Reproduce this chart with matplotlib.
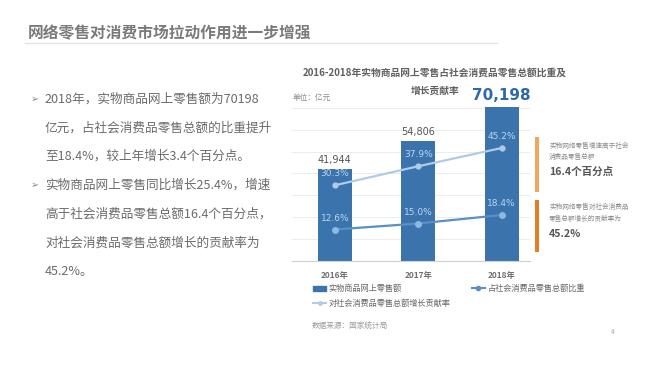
import matplotlib
matplotlib.use("Agg")
import matplotlib.pyplot as plt
from matplotlib.patches import Rectangle, Patch
from matplotlib.lines import Line2D
import numpy as np

plt.rcParams['font.family'] = ['Noto Sans CJK SC', 'DejaVu Sans']

# --- data
years = ['2016年', '2017年', '2018年']
online_sales = [41944, 54806, 70198]          # 亿元
share_pct = [12.6, 15.0, 18.4]                 # 占社会消费品零售总额比重
contrib_pct = [30.3, 37.9, 45.2]               # 对社会消费品零售总额增长贡献率
bullets = [
    ['2018年，实物商品网上零售额为70198', '亿元，占社会消费品零售总额的比重提升', '至18.4%，较上年增长3.4个百分点。'],
    ['实物商品网上零售同比增长25.4%，增速', '高于社会消费品零售总额16.4个百分点，', '对社会消费品零售总额增长的贡献率为', '45.2%。'],
]

bar_c = '#3b73ad'
share_c = '#5b8fc6'
contrib_c = '#b0cbe8'
txt_c = '#6b6b6b'

fig = plt.figure(figsize=(6.52, 3.87), dpi=100)
fig.patch.set_facecolor('white')

W, H = 652, 387
def fx(px): return px / W
def fy(py): return 1 - py / H

# --- page title
fig.text(fx(28), fy(33), '网络零售对消费市场拉动作用进一步增强', fontsize=11.3, fontweight='bold',
         color='#7a7a7a', va='center', ha='left')
fig.add_artist(Line2D([fx(25), fx(497)], [fy(43), fy(43)], color='#e2e2e2', lw=1))

# --- left bullet text
y = 99
for para in bullets:
    for i, line in enumerate(para):
        if i == 0:
            fig.text(fx(31), fy(y), '➢', fontsize=7, color='#888888', va='center', ha='left',
                     family=['DejaVu Sans'])
        fig.text(fx(45), fy(y), line, fontsize=9.1, color=txt_c, va='center', ha='left')
        y += 28.8

# --- chart
ax = fig.add_axes([fx(292), fy(261), fx(530) - fx(292), (261 - 90) / H])
x = np.arange(len(years))
ax.bar(x, online_sales, width=0.41, color=bar_c, zorder=2)
ax.set_xlim(-0.515, 2.34)
ax.set_ylim(0, 171 / 0.00219)
ax.set_yticks(np.arange(10000, 80000, 10000))
ax.yaxis.grid(True, color='#ececec', lw=0.7, zorder=0)
ax.set_xticks(x)
ax.set_xticklabels(years, fontsize=6, color='#707070', fontweight='bold')
for s in ['top', 'right', 'left']:
    ax.spines[s].set_visible(False)
ax.spines['bottom'].set_color('#d0d0d0')

for i, v in enumerate(online_sales):
    if i == len(online_sales) - 1:
        ax.annotate(f'{v:,}', (x[i], v), xytext=(0, 3), textcoords='offset points', ha='center',
                    va='bottom', fontsize=11, fontweight='bold', color='#2f6aa6', family=['DejaVu Sans'])
    else:
        ax.annotate(f'{v:,}', (x[i], v), xytext=(0, 3), textcoords='offset points', ha='center',
                    va='bottom', fontsize=7, color='#555555', family=['DejaVu Sans'])

ax2 = ax.twinx()
ax2.set_ylim(0, 171 / 2.5)
ax2.axis('off')
# twinx turns the left ticks back on, so hide them afterwards
ax.tick_params(axis='y', left=False, right=False, labelleft=False)
ax.tick_params(axis='x', length=0, pad=7)
ax2.plot(x, contrib_pct, color=contrib_c, lw=1.6, marker='o', ms=3.5, zorder=3)
ax2.plot(x, share_pct, color=share_c, lw=1.6, marker='o', ms=4, mfc='#8db8e2', mec='#8db8e2', zorder=3)
for i in range(len(x)):
    ax2.annotate(f'{contrib_pct[i]:.1f}%', (x[i], contrib_pct[i]), xytext=(0, 5), textcoords='offset points',
                 ha='center', va='bottom', fontsize=6.5, color='#b9d6f3', family=['DejaVu Sans'])
    ax2.annotate(f'{share_pct[i]:.1f}%', (x[i], share_pct[i]), xytext=(0, 5), textcoords='offset points',
                 ha='center', va='bottom', fontsize=6.5, color='#b9d6f3', family=['DejaVu Sans'])

# chart title and unit
fig.text(fx(435), fy(73), '2016-2018年实物商品网上零售占社会消费品零售总额比重及', fontsize=7,
         fontweight='bold', color='#606060', ha='center', va='center')
fig.text(fx(435), fy(91), '增长贡献率', fontsize=7, fontweight='bold', color='#606060',
         ha='center', va='center')
fig.text(fx(293), fy(98), '单位：亿元', fontsize=5.5, color='#8a8a8a', ha='left', va='center')

# legend
handles = [Patch(color=bar_c, label='实物商品网上零售额'),
           Line2D([], [], color=contrib_c, marker='o', ms=2.5, lw=1.5, label='对社会消费品零售总额增长贡献率'),
           Line2D([], [], color=share_c, marker='o', ms=3, lw=1.5, label='占社会消费品零售总额比重')]
leg = fig.legend(handles=handles, ncol=2, loc='upper left', bbox_to_anchor=(fx(309), fy(280)),
                 frameon=False, fontsize=5.9, handlelength=1.6, handleheight=0.6, handletextpad=0.3,
                 columnspacing=2.6, labelspacing=0.75, borderpad=0)
for t in leg.get_texts():
    t.set_color('#666666')

fig.text(fx(312), fy(327), '数据来源：国家统计局', fontsize=5.5, color='#9a9a9a', style='italic',
         ha='left', va='center')
fig.text(fx(613), fy(332), '4', fontsize=5, color='#aaaaaa', ha='center', va='center')

# --- right callouts
fig.add_artist(Rectangle((fx(535), fy(192)), fx(4), (192 - 137) / H, color='#f2a55c', lw=0))
fig.add_artist(Rectangle((fx(535), fy(252)), fx(4), (252 - 200) / H, color='#e47e22', lw=0))
fig.text(fx(549), fy(146), '实物网络零售增速高于社会', fontsize=4.8, color='#8a8a8a', va='center')
fig.text(fx(549), fy(157), '消费品零售总额', fontsize=4.8, color='#8a8a8a', va='center')
fig.text(fx(549), fy(172), '16.4个百分点', fontsize=7.6, fontweight='bold', color='#555555', va='center')
fig.text(fx(549), fy(207), '实物网络零售对社会消费品', fontsize=4.8, color='#8a8a8a', va='center')
fig.text(fx(549), fy(219), '零售总额增长的贡献率为', fontsize=4.8, color='#8a8a8a', va='center')
fig.text(fx(549), fy(234), '45.2%', fontsize=7.6, fontweight='bold', color='#555555', va='center')

fig.savefig('out.png', dpi=100)
